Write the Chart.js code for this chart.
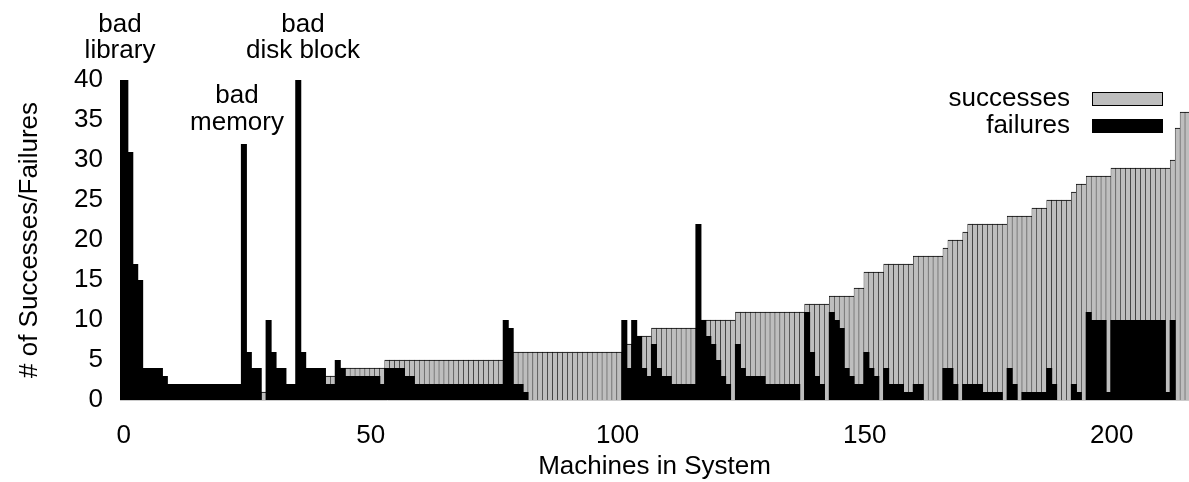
<!DOCTYPE html>
<html><head><meta charset="utf-8">
<script src="https://cdn.jsdelivr.net/npm/chart.js@4/dist/chart.umd.min.js"></script>
<style>html,body{margin:0;padding:0;background:#fff}#wrap{width:1189px;height:482px;position:relative}</style>
</head><body><div id="wrap"><canvas id="c" width="1189" height="482"></canvas></div>
<script>
// machine index (first box is partly outside the plot range, as in the original)
const machineIds = Array.from({length: 217}, (_, i) => i - 1);
const BAR_SHIFT = 0.35; // boxes sit slightly right of integer positions

const failures = [
  40,40,31,17,15,4,4,4,4,3,
  2,2,2,2,2,2,2,2,2,2,
  2,2,2,2,2,32,6,4,4,0,
  10,6,4,4,2,2,40,6,4,4,
  4,4,2,2,5,4,3,3,3,3,
  3,3,3,2,4,4,4,4,3,3,
  2,2,2,2,2,2,2,2,2,2,
  2,2,2,2,2,2,2,2,10,9,
  2,2,1,0,0,0,0,0,0,0,
  0,0,0,0,0,0,0,0,0,0,
  0,0,10,4,10,8,4,3,7,4,
  3,3,2,2,2,2,2,22,10,8,
  7,5,3,2,0,7,4,3,3,3,
  3,2,2,2,2,2,2,2,0,11,
  6,3,2,0,11,10,9,4,3,2,
  2,6,4,3,0,4,2,2,2,1,
  1,2,2,0,0,0,0,4,4,2,
  0,2,2,2,2,1,1,1,1,0,
  4,2,0,1,1,1,1,1,4,2,
  0,0,0,2,1,0,11,10,10,10,
  1,10,10,10,10,10,10,10,10,10,
  10,10,1,10,0,0,0
];
const successes = [
  0,0,0,0,0,0,0,0,0,0,
  0,0,0,0,0,0,0,0,0,0,
  0,0,0,0,0,0,0,0,0,1,
  0,0,0,0,0,0,0,0,0,0,
  0,0,3,3,4,4,4,4,4,4,
  4,4,4,4,5,5,5,5,5,5,
  5,5,5,5,5,5,5,5,5,5,
  5,5,5,5,5,5,5,5,5,5,
  6,6,6,6,6,6,6,6,6,6,
  6,6,6,6,6,6,6,6,6,6,
  6,6,6,7,7,8,8,8,9,9,
  9,9,9,9,9,9,9,9,10,10,
  10,10,10,10,10,11,11,11,11,11,
  11,11,11,11,11,11,11,11,11,12,
  12,12,12,12,13,13,13,13,13,14,
  14,16,16,16,16,17,17,17,17,17,
  17,18,18,18,18,18,18,19,20,20,
  20,21,22,22,22,22,22,22,22,22,
  23,23,23,23,23,24,24,24,25,25,
  25,25,25,26,27,27,28,28,28,28,
  28,29,29,29,29,29,29,29,29,29,
  29,29,29,30,34,36,36
];
const xTickValues = [0, 50, 100, 150, 200];
const yTickValues = [0, 5, 10, 15, 20, 25, 30, 35, 40];
const seriesNames = ['successes', 'failures'];
const annotations = [
  {lines: ['bad', 'library'], x: 120, y: 31.7},
  {lines: ['bad', 'memory'], x: 237, y: 103},
  {lines: ['bad', 'disk block'], x: 303, y: 31.7}
];

const FONT = '"Liberation Sans", Arial, sans-serif';
const FS = 26;
const GRAY = '#bebebe';

const pts = arr => arr.map((v, i) => ({x: machineIds[i] + BAR_SHIFT, y: v}));

const overlay = {
  id: 'overlay',
  afterDraw(chart) {
    const ctx = chart.ctx;
    ctx.save();
    ctx.fillStyle = '#000';
    ctx.font = FS + 'px ' + FONT;
    ctx.textAlign = 'center';
    ctx.textBaseline = 'alphabetic';
    annotations.forEach(a => {
      a.lines.forEach((t, j) => ctx.fillText(t, a.x, a.y + j * 26.6));
    });
    // legend (gnuplot style: text then swatch)
    ctx.textAlign = 'right';
    ctx.textBaseline = 'middle';
    const items = [{t: seriesNames[0], c: GRAY, y: 92}, {t: seriesNames[1], c: '#000', y: 119}];
    items.forEach(it => {
      ctx.fillStyle = '#000';
      ctx.fillText(it.t, 1070, it.y + 7);
      ctx.fillStyle = it.c;
      ctx.fillRect(1092, it.y, 71, 14);
      ctx.strokeStyle = '#000';
      ctx.lineWidth = 1;
      ctx.strokeRect(1092.5, it.y + 0.5, 70, 13);
    });
    ctx.restore();
  }
};

const barBorder = {top: 1, left: 0.5, right: 0.5, bottom: 0};

new Chart(document.getElementById('c'), {
  type: 'bar',
  data: {
    datasets: [
      {label: seriesNames[1], data: pts(failures), backgroundColor: '#000', borderColor: '#000',
       borderWidth: 0, borderSkipped: 'start', grouped: false, barPercentage: 1.22, categoryPercentage: 1, clip: 0, order: 0},
      {label: seriesNames[0], data: pts(successes), backgroundColor: GRAY, borderColor: '#000',
       borderWidth: barBorder, borderSkipped: 'start', grouped: false, barPercentage: 1, categoryPercentage: 1, clip: 0, order: 1}
    ]
  },
  options: {
    responsive: false,
    animation: false,
    devicePixelRatio: 1,
    layout: {padding: {top: 80, right: 0, left: 0, bottom: 0}},
    plugins: {legend: {display: false}, tooltip: {enabled: false}},
    scales: {
      x: {
        type: 'linear', min: -0.73, max: 215.65, offset: false,
        grid: {display: false, drawTicks: false},
        border: {display: true, color: '#cccccc', width: 1},
        afterBuildTicks: s => { s.ticks = xTickValues.map(v => ({value: v})); },
        ticks: {color: '#000', font: {family: FONT, size: FS}, padding: 20, maxRotation: 0, autoSkip: false},
        title: {display: true, text: 'Machines in System', color: '#000', font: {family: FONT, size: FS}, padding: {top: 0, bottom: 0}},
        afterFit: s => { s.height = 82; }
      },
      y: {
        min: 0, max: 40,
        grid: {display: false, drawTicks: false},
        border: {display: false},
        afterBuildTicks: s => { s.ticks = yTickValues.map(v => ({value: v})); },
        ticks: {color: '#000', font: {family: FONT, size: FS}, padding: 17},
        title: {display: true, text: '# of Successes/Failures', color: '#000', font: {family: FONT, size: FS}, padding: {top: 14, bottom: 0}},
        afterFit: s => { s.width = 120; }
      }
    }
  },
  plugins: [overlay]
});
</script>
</body></html>
